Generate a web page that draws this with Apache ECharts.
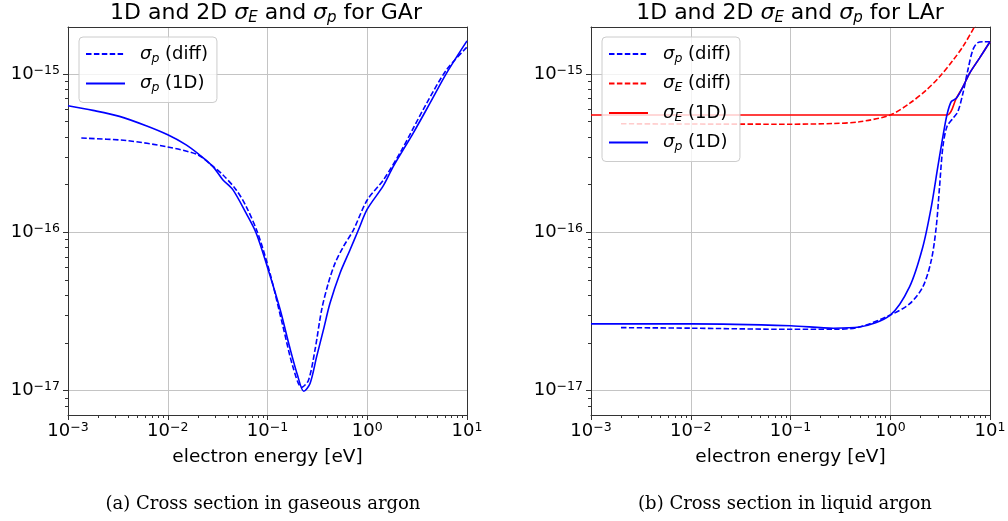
<!DOCTYPE html>
<html>
<head>
<meta charset="utf-8">
<script src="https://cdn.jsdelivr.net/npm/echarts@6/dist/echarts.min.js"></script>
<style>
html,body{margin:0;padding:0;background:#fff;}
#chart{width:1008px;height:521px;}
</style>
</head>
<body>
<div id="chart"></div>
<script>
// ---------------- data ----------------
// Gaseous argon
const gArDiffE = [1.36e-3, 3.83e-3, 0.01, 0.02, 0.0272, 0.0356, 0.0484, 0.061, 0.0798, 0.106, 0.143, 0.18, 0.22, 0.257, 0.299, 0.349, 0.407, 0.475, 0.575, 0.724, 1.0, 1.45, 2.21, 3.93, 6.22, 10];
const gArDiffSigmaP = [3.94e-16, 3.8e-16, 3.46e-16, 3.09e-16, 2.67e-16, 2.31e-16, 1.86e-16, 1.46e-16, 9.9e-17, 5.5e-17, 2.54e-17, 1.41e-17, 1.05e-17, 1.16e-17, 1.8e-17, 3.24e-17, 4.77e-17, 6.37e-17, 8.1e-17, 1.03e-16, 1.6e-16, 2.14e-16, 3.31e-16, 6.52e-16, 1.06e-15, 1.48e-15];
const gAr1dE = [1e-3, 1.78e-3, 3.28e-3, 6.07e-3, 0.01, 0.0153, 0.0208, 0.0283, 0.0356, 0.0449, 0.061, 0.0769, 0.1, 0.133, 0.168, 0.2, 0.231, 0.267, 0.311, 0.363, 0.423, 0.532, 0.671, 0.813, 1.0, 1.45, 1.82, 2.88, 4.24, 6.22, 10];
const gAr1dSigmaP = [6.3e-16, 5.89e-16, 5.4e-16, 4.71e-16, 4.13e-16, 3.57e-16, 3.09e-16, 2.61e-16, 2.15e-16, 1.86e-16, 1.32e-16, 9.9e-17, 6.0e-17, 3.3e-17, 1.85e-17, 1.25e-17, 9.9e-18, 1.11e-17, 1.64e-17, 2.41e-17, 3.56e-17, 5.5e-17, 7.73e-17, 1.03e-16, 1.4e-16, 1.97e-16, 2.6e-16, 4.22e-16, 6.52e-16, 1.01e-15, 1.62e-15];

// Liquid argon
const lArDiffPE = [2e-3, 0.01, 0.1, 0.27, 0.49, 1.0, 1.56, 2.12, 2.58, 2.89, 3.12, 3.37, 3.7, 4.25, 4.76, 5.35, 6.0, 6.73, 7.55, 8.8, 10];
const lArDiffSigmaP = [2.5e-17, 2.48e-17, 2.44e-17, 2.44e-17, 2.52e-17, 3.0e-17, 3.53e-17, 4.52e-17, 6.67e-17, 1.08e-16, 1.94e-16, 3.47e-16, 4.65e-16, 5.25e-16, 5.78e-16, 7.55e-16, 1.06e-15, 1.42e-15, 1.58e-15, 1.6e-15, 1.6e-15];
const lArDiffEE = [2e-3, 0.01, 0.1, 0.27, 0.49, 1.0, 1.56, 2.3, 3.12, 4.25, 5.35, 7.0, 7.6];
const lArDiffSigmaE = [4.85e-16, 4.83e-16, 4.82e-16, 4.87e-16, 4.99e-16, 5.51e-16, 6.52e-16, 7.92e-16, 9.6e-16, 1.22e-15, 1.49e-15, 1.99e-15, 2.2e-15];
const lAr1dEE = [1e-3, 0.01, 0.1, 1.0, 3.7, 4.59, 5.35, 6.24, 7.85, 10];
const lAr1dSigmaE = [5.51e-16, 5.51e-16, 5.51e-16, 5.51e-16, 5.51e-16, 7.02e-16, 8.3e-16, 1.01e-15, 1.26e-15, 1.6e-15];
const lAr1dPE = [1e-3, 0.01, 0.1, 0.27, 0.49, 1.0, 1.56, 2.12, 2.58, 3.0, 3.37, 3.7, 4.08, 4.59, 5.35, 6.24, 7.85, 10];
const lAr1dSigmaP = [2.64e-17, 2.64e-17, 2.57e-17, 2.48e-17, 2.52e-17, 3.0e-17, 4.52e-17, 8.08e-17, 1.45e-16, 2.6e-16, 4.02e-16, 5.51e-16, 6.68e-16, 7.02e-16, 8.3e-16, 1.01e-15, 1.26e-15, 1.6e-15];

// axes
const xMin = 1e-3, xMax = 10;
const yMin = Math.pow(10, -17.154), yMax = Math.pow(10, -14.703);
const xMajorTicks = [1e-3, 1e-2, 1e-1, 1, 10];
const yMajorTicks = [1e-17, 1e-16, 1e-15];

const titles = ['1D and 2D {i|σ}{s|E} and {i|σ}{s|p} for GAr', '1D and 2D {i|σ}{s|E} and {i|σ}{s|p} for LAr'];
const captions = ['(a) Cross section in gaseous argon', '(b) Cross section in liquid argon'];
const xName = 'electron energy [eV]';
const legendLabels = {
  gPdiff: '{g|}{i|σ}{s|p} (diff)',
  gP1d: '{g|}{i|σ}{s|p} (1D)',
  lPdiff: '{g|}{i|σ}{s|p} (diff)',
  lEdiff: '{g|}{i|σ}{s|E} (diff)',
  lE1d: '{g|}{i|σ}{s|E} (1D)',
  lP1d: '{g|}{i|σ}{s|p} (1D)'
};

// ---------------- helpers ----------------
const FONT = 'DejaVu Sans';
function minorValues(lo, hi) {
  const out = [];
  for (let d = -19; d <= 2; d++) {
    for (let k = 2; k <= 9; k++) {
      const v = Number((k * Math.pow(10, d)).toPrecision(3));
      if (v > lo && v < hi) out.push(v);
    }
  }
  return out;
}
function zip(a, b) { return a.map((v, i) => [v, b[i]]); }
function supLabel(v) {
  const e = Math.round(Math.log10(v));
  const s = e < 0 ? '\u2212' + (-e) : String(e);
  return '{b|10}{s|' + s + '}';
}
const labelRich = {
  b: { fontSize: 18, lineHeight: 20, fontFamily: FONT, color: '#000' },
  s: { fontSize: 12.5, lineHeight: 12, verticalAlign: 'top', fontFamily: FONT, color: '#000' }
};
const AX = '#333333';
const GRIDC = '#c4c4c4';

const grids = [
  { left: 68, top: 27, width: 399, height: 388 },
  { left: 591, top: 27, width: 399, height: 388 }
];

const xAxes = [], yAxes = [];
grids.forEach((g, gi) => {
  xAxes.push({
    type: 'log', gridIndex: gi, min: xMin, max: xMax, position: 'bottom',
    name: xName, nameLocation: 'middle', nameGap: 33,
    nameTextStyle: { fontSize: 18.5, fontFamily: FONT, color: '#000' },
    axisLine: { show: true, lineStyle: { color: AX, width: 1 } },
    axisTick: { show: true, length: 5, lineStyle: { color: AX, width: 1 }, customValues: xMajorTicks },
    axisLabel: { show: true, margin: 6, customValues: xMajorTicks, formatter: supLabel, rich: labelRich },
    splitLine: { show: true, lineStyle: { color: GRIDC, width: 1 } }
  });
  xAxes.push({
    type: 'log', gridIndex: gi, min: xMin, max: xMax, position: 'bottom',
    axisLine: { show: false },
    axisTick: { show: true, length: 3, lineStyle: { color: AX, width: 1 }, customValues: minorValues(xMin, xMax) },
    axisLabel: { show: false },
    splitLine: { show: false }
  });
  xAxes.push({
    type: 'value', gridIndex: gi, min: 0, max: 1, position: 'top',
    axisLine: { show: true, lineStyle: { color: AX, width: 1 } },
    axisTick: { show: false }, axisLabel: { show: false }, splitLine: { show: false }
  });
  yAxes.push({
    type: 'log', gridIndex: gi, min: yMin, max: yMax, position: 'left',
    axisLine: { show: true, lineStyle: { color: AX, width: 1 } },
    axisTick: { show: true, length: 5, lineStyle: { color: AX, width: 1 }, customValues: yMajorTicks },
    axisLabel: { show: true, margin: 8, customValues: yMajorTicks, formatter: supLabel, rich: labelRich },
    splitLine: { show: true, lineStyle: { color: GRIDC, width: 1 } }
  });
  yAxes.push({
    type: 'log', gridIndex: gi, min: yMin, max: yMax, position: 'left',
    axisLine: { show: false },
    axisTick: { show: true, length: 3, lineStyle: { color: AX, width: 1 }, customValues: minorValues(yMin, yMax) },
    axisLabel: { show: false },
    splitLine: { show: false }
  });
  yAxes.push({
    type: 'value', gridIndex: gi, min: 0, max: 1, position: 'right',
    axisLine: { show: true, lineStyle: { color: AX, width: 1 } },
    axisTick: { show: false }, axisLabel: { show: false }, splitLine: { show: false }
  });
});

const BLUE = '#0000ff', RED = '#ff0000';
const DASH = [5.5, 2.4];
function lineSeries(name, gi, xs, ys, color, dashed) {
  return {
    type: 'line', name: name, xAxisIndex: gi * 3, yAxisIndex: gi * 3,
    data: zip(xs, ys), symbol: 'none', showSymbol: false, smooth: 0.3,
    lineStyle: { color: color, width: 1.6, type: dashed ? DASH : 'solid' },
    itemStyle: { color: 'rgba(0,0,0,0)', borderWidth: 0 },
    emphasis: { disabled: true },
    clip: true
  };
}

const series = [
  lineSeries('gPdiff', 0, gArDiffE, gArDiffSigmaP, BLUE, true),
  lineSeries('gP1d', 0, gAr1dE, gAr1dSigmaP, BLUE, false),
  lineSeries('lPdiff', 1, lArDiffPE, lArDiffSigmaP, BLUE, true),
  lineSeries('lEdiff', 1, lArDiffEE, lArDiffSigmaE, RED, true),
  lineSeries('lE1d', 1, lAr1dEE, lAr1dSigmaE, RED, false),
  lineSeries('lP1d', 1, lAr1dPE, lAr1dSigmaP, BLUE, false)
];

const legendRich = {
  g: { width: 10 },
  i: { fontSize: 18, fontStyle: 'italic', fontFamily: FONT, color: '#000', lineHeight: 22 },
  s: { fontSize: 12.5, fontStyle: 'italic', fontFamily: FONT, color: '#000', lineHeight: 12, verticalAlign: 'bottom' }
};
function legendCfg(names, left, top) {
  return {
    data: names, left: left, top: top, orient: 'vertical',
    itemWidth: 39, itemHeight: 14, itemGap: 7.5,
    padding: [6, 9, 8, 6],
    backgroundColor: 'rgba(255,255,255,0.8)', borderColor: '#cccccc', borderWidth: 1, borderRadius: 4,
    formatter: n => legendLabels[n],
    selectedMode: false,
    itemStyle: { opacity: 0 },
    textStyle: { fontSize: 18, lineHeight: 22, fontFamily: FONT, color: '#000', rich: legendRich },
    z: 10
  };
}

const titleRich = {
  i: { fontSize: 22, fontStyle: 'italic', fontFamily: FONT, fill: '#000', lineHeight: 26 },
  s: { fontSize: 15, fontStyle: 'italic', fontFamily: FONT, fill: '#000', lineHeight: 15, verticalAlign: 'bottom' }
};
const graphics = [
  { type: 'text', x: 266, y: 13, style: { text: titles[0], fontSize: 22, fontFamily: FONT, fill: '#000', lineHeight: 26, align: 'center', verticalAlign: 'middle', rich: titleRich } },
  { type: 'text', x: 790, y: 13, style: { text: titles[1], fontSize: 22, fontFamily: FONT, fill: '#000', lineHeight: 26, align: 'center', verticalAlign: 'middle', rich: titleRich } },
  { type: 'text', x: 263, y: 504, style: { text: captions[0], fontSize: 18, fontFamily: 'DejaVu Serif', fill: '#000', align: 'center', verticalAlign: 'middle' } },
  { type: 'text', x: 785, y: 504, style: { text: captions[1], fontSize: 18, fontFamily: 'DejaVu Serif', fill: '#000', align: 'center', verticalAlign: 'middle' } }
];

const chart = echarts.init(document.getElementById('chart'), null, { renderer: 'canvas' });
chart.setOption({
  animation: false,
  backgroundColor: '#ffffff',
  textStyle: { fontFamily: FONT },
  grid: grids.map(g => Object.assign({ containLabel: false, outerBoundsMode: 'none' }, g)),
  xAxis: xAxes,
  yAxis: yAxes,
  legend: [legendCfg(['gPdiff', 'gP1d'], 79, 37), legendCfg(['lPdiff', 'lEdiff', 'lE1d', 'lP1d'], 602, 37)],
  graphic: graphics,
  series: series
});
</script>
</body>
</html>
